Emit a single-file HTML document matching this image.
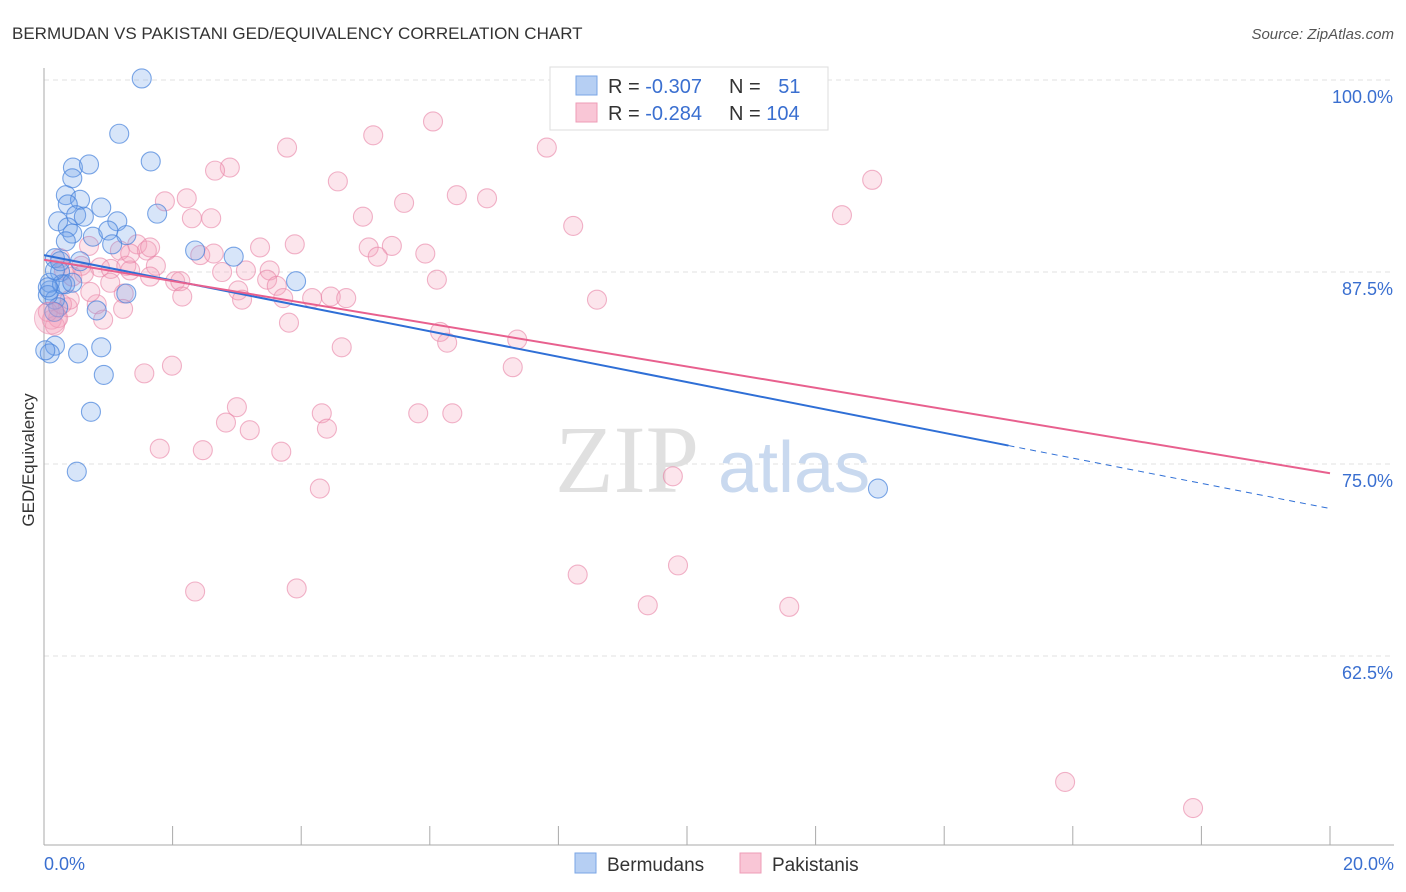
<!DOCTYPE html>
<html><head><meta charset="utf-8"><style>
body{margin:0;background:#fff;font-family:"Liberation Sans",sans-serif;}
#wrap{position:relative;width:1406px;height:892px;overflow:hidden}
</style></head><body>
<div id="wrap">
<svg id="svg" width="1406" height="892" xmlns="http://www.w3.org/2000/svg">
<text x="12" y="39" font-size="17" fill="#333">BERMUDAN VS PAKISTANI GED/EQUIVALENCY CORRELATION CHART</text>
<text x="1394" y="39" font-size="15" fill="#555" text-anchor="end" font-style="italic">Source: ZipAtlas.com</text>
<text x="34" y="460" font-size="17" fill="#333" text-anchor="middle" transform="rotate(-90 34 460)">GED/Equivalency</text>
<g id="grid"></g>
<text x="555" y="492" font-size="96" fill="#e0e0e0" font-family="Liberation Serif,serif">ZIP</text>
<text x="718" y="492" font-size="72" fill="#c9d9ef">atlas</text>
<g id="pts"></g>
<g id="lines"></g>
<g>
<rect x="550" y="67" width="278" height="63" fill="#fff" stroke="#ddd"/>
<rect x="576" y="76" width="21" height="19" fill="#b6cff3" stroke="#7aa6e6"/>
<rect x="576" y="103" width="21" height="19" fill="#f9c6d6" stroke="#ee9cb7"/>
<text x="608" y="93" font-size="20" fill="#333">R = <tspan fill="#3a6fd0">-0.307</tspan></text>
<text x="729" y="93" font-size="20" fill="#333">N = <tspan fill="#3a6fd0" dx="12">51</tspan></text>
<text x="608" y="120" font-size="20" fill="#333">R = <tspan fill="#3a6fd0">-0.284</tspan></text>
<text x="729" y="120" font-size="20" fill="#333">N = <tspan fill="#3a6fd0">104</tspan></text>
</g>
<g>
<rect x="575" y="853" width="21" height="20" fill="#b6cff3" stroke="#7aa6e6"/>
<text x="607" y="871" font-size="19" fill="#333">Bermudans</text>
<rect x="740" y="853" width="21" height="20" fill="#f9c6d6" stroke="#ee9cb7"/>
<text x="772" y="871" font-size="19" fill="#333">Pakistanis</text>
</g>
</svg>
</div>
<script>
const yTicks=[100,87.5,75,62.5];
const yTickLabels=["100.0%","87.5%","75.0%","62.5%"];
const xTickLabels=["0.0%","20.0%"];
const blueX=[1.52,1.17,1.66,0.45,0.70,0.44,0.34,0.56,0.37,0.22,0.50,0.89,1.14,1.76,0.62,0.37,0.44,0.34,0.76,1.00,1.28,1.06,2.35,2.95,0.17,0.56,3.92,0.25,0.33,0.09,0.17,0.22,1.28,0.82,0.16,0.89,0.17,0.09,0.53,0.93,0.73,0.51,12.97,0.09,0.06,0.28,0.02,0.44,0.17,0.06,0.25];
const blueY=[100.1,96.5,94.7,94.3,94.5,93.6,92.5,92.2,91.9,90.8,91.2,91.7,90.8,91.3,91.1,90.4,90.0,89.5,89.8,90.2,89.9,89.3,88.9,88.5,88.4,88.2,86.9,87.5,86.7,86.3,85.7,85.2,86.1,85.0,84.9,82.6,82.7,82.2,82.2,80.8,78.4,74.5,73.4,86.8,86.0,86.7,82.4,86.8,87.6,86.5,88.2];
const pinkX=[8.27,11.24,9.35,6.05,5.12,3.78,7.82,2.89,2.66,4.57,6.42,6.89,5.60,12.88,1.88,2.22,12.41,4.96,2.60,2.30,8.23,1.45,0.70,1.60,2.43,3.36,3.90,5.05,5.41,5.19,5.93,2.64,1.18,1.74,2.04,2.77,3.14,3.51,3.47,0.58,0.87,1.04,1.28,0.31,0.44,0.62,1.65,2.12,3.02,3.08,3.62,3.72,4.17,4.46,4.70,6.11,8.60,2.15,1.24,0.82,1.23,0.92,0.37,3.81,6.16,6.27,7.36,4.63,7.29,1.56,1.99,3.00,2.83,3.20,4.32,4.40,5.82,6.35,1.80,2.47,3.69,4.29,9.78,8.30,9.86,2.35,3.93,9.39,11.59,15.88,17.87,0.12,0.22,0.17,0.06,0.28,0.40,0.72,1.03,1.34,0.25,8.65,1.65,1.34];
const pinkY=[100,100,97.4,97.3,96.4,95.6,95.6,94.3,94.1,93.4,92.5,92.3,92.0,93.5,92.1,92.3,91.2,91.1,91.0,91.0,90.5,89.3,89.2,88.9,88.6,89.1,89.3,89.1,89.2,88.5,88.7,88.7,88.9,87.9,86.9,87.5,87.6,87.6,87.0,87.9,87.8,87.7,87.9,87.6,87.2,87.4,87.2,86.9,86.3,85.7,86.6,85.8,85.8,85.9,85.8,87.0,85.7,85.9,86.1,85.4,85.1,84.4,85.2,84.2,83.6,82.9,83.1,82.6,81.3,80.9,81.4,78.7,77.7,77.2,78.3,77.3,78.3,78.3,76.0,75.9,75.8,73.4,74.2,67.8,68.4,66.7,66.9,65.8,65.7,54.3,52.6,84.4,84.5,84.0,84.9,85.4,85.7,86.2,86.8,87.6,88.4,100,89.1,88.7];
const blueTrend=[[0,88.6],[15.0,76.2],[20,72.1]];
const pinkTrend=[[0,88.3],[20,74.4]];
const NS="http://www.w3.org/2000/svg";
const X0=44,X1=1330,Ytop=80,PXPER=15.36;
const sx=v=>X0+v/20*(X1-X0);
const sy=v=>Ytop+(100-v)*PXPER;
function mk(tag,attrs,parent){const e=document.createElementNS(NS,tag);for(const k in attrs)e.setAttribute(k,attrs[k]);parent.appendChild(e);return e;}
const grid=document.getElementById('grid');
yTicks.forEach((t,i)=>{
 const l=mk('line',{x1:44,x2:1394,y1:sy(t),y2:sy(t),stroke:'#e2e2e2','stroke-dasharray':'5,4'},grid);
 
 
 const tx=mk('text',{x:1393,y:sy(t)+23,'font-size':18,fill:'#3a6fd0','text-anchor':'end'},grid);
 tx.textContent=yTickLabels[i];
 
 
});
const ax=mk('line',{x1:44,x2:44,y1:68,y2:845,stroke:'#aaa'},grid);


const bx=mk('line',{x1:44,x2:1394,y1:845,y2:845,stroke:'#aaa'},grid);


for(let i=0;i<=10;i++){
 const t=mk('line',{x1:sx(i*2),x2:sx(i*2),y1:826,y2:845,stroke:'#aaa'},grid);
 
 
}
[[0,'start',44],[20,'end',1394]].forEach((d,i)=>{
 const tx=mk('text',{x:d[2],y:870,'font-size':18,fill:'#3a6fd0','text-anchor':d[1]},grid);
 tx.textContent=xTickLabels[i];
 
 
});
const pts=document.getElementById('pts');
pinkX.forEach((x,i)=>{
 const c=mk('circle',{cx:sx(x),cy:sy(pinkY[i]),r:9.5,fill:'rgba(244,160,188,0.28)',stroke:'rgba(232,130,165,0.6)','stroke-width':1.1},pts);
 
 
});
blueX.forEach((x,i)=>{
 const c=mk('circle',{cx:sx(x),cy:sy(blueY[i]),r:9.5,fill:'rgba(110,160,235,0.28)',stroke:'rgba(70,130,220,0.7)','stroke-width':1.1},pts);
 
 
});
const big=mk('circle',{cx:sx(0.1),cy:sy(84.5),r:16,fill:'rgba(244,160,188,0.35)',stroke:'rgba(232,130,165,0.5)'},pts);


const lines=document.getElementById('lines');
const bl=mk('line',{x1:sx(blueTrend[0][0]),y1:sy(blueTrend[0][1]),x2:sx(blueTrend[1][0]),y2:sy(blueTrend[1][1]),stroke:'#2f6fd6','stroke-width':2},lines);


const bd=mk('line',{x1:sx(blueTrend[1][0]),y1:sy(blueTrend[1][1]),x2:sx(blueTrend[2][0]),y2:sy(blueTrend[2][1]),stroke:'#2f6fd6','stroke-width':1,'stroke-dasharray':'6,5'},lines);


const pl=mk('line',{x1:sx(pinkTrend[0][0]),y1:sy(pinkTrend[0][1]),x2:sx(pinkTrend[1][0]),y2:sy(pinkTrend[1][1]),stroke:'#e8608e','stroke-width':2},lines);


</script>
</body></html>
